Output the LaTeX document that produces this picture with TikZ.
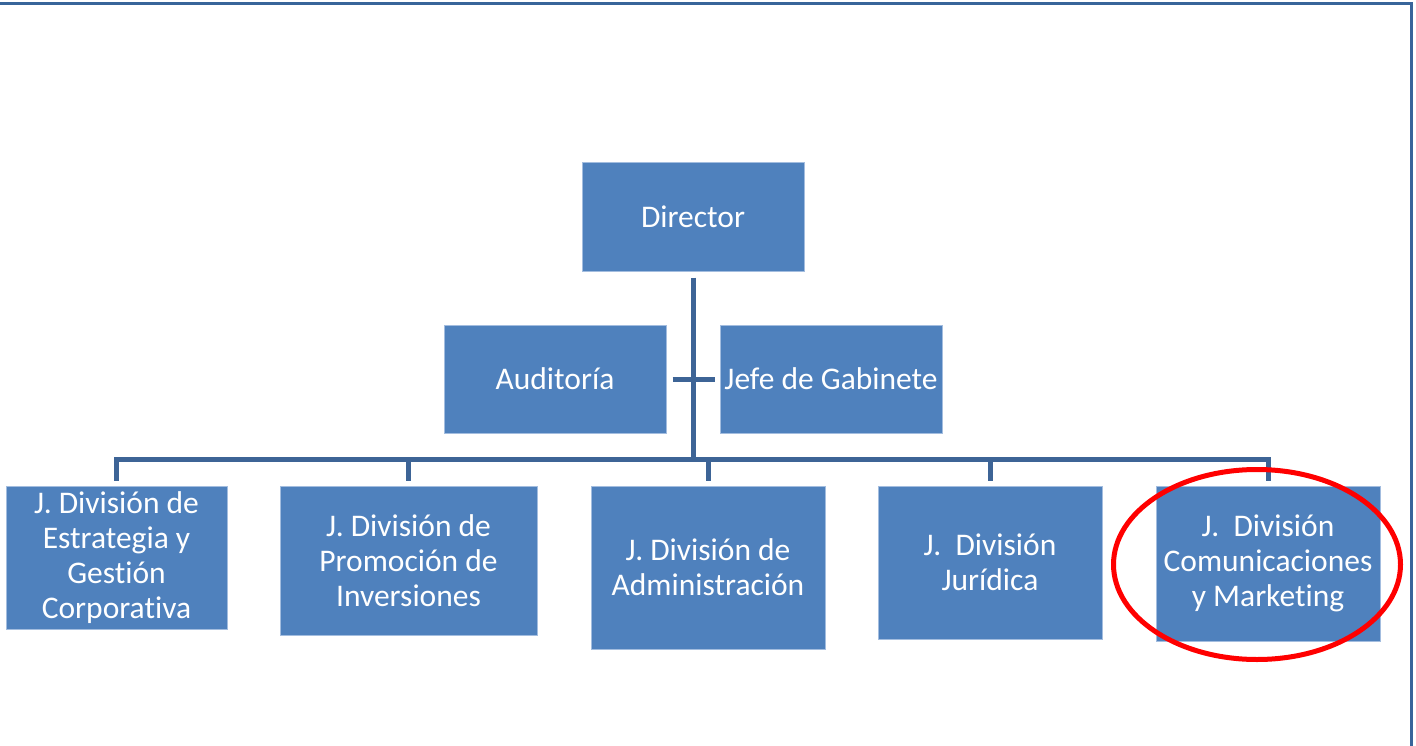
\documentclass[tikz,border=0pt]{standalone}
\usepackage{fontspec}
\setmainfont[Ligatures=NoCommon]{Carlito}
\usetikzlibrary{positioning}

\definecolor{boxblue}{HTML}{4F81BD}
\definecolor{boxedge}{HTML}{A3BDDF}
\definecolor{linkblue}{HTML}{3D6496}
\definecolor{frameblue}{HTML}{38659A}

\begin{document}
\begin{tikzpicture}[x=1pt, y=-1pt,
    box/.style={draw=boxedge, fill=boxblue, line width=1pt, text=white,
      align=center, inner sep=0pt, font=\fontsize{31.5}{35}\selectfont},
    link/.style={draw=linkblue, line width=5pt}]
  \useasboundingbox (0,0) rectangle (1416,746);
  \draw[frameblue, line width=3pt] (0,3.5) -- (1411.5,3.5) -- (1411.5,746);

  \node[box, minimum width=222pt, minimum height=108pt] (dir) at (693,217) {Director};
  \node[box, minimum width=222pt, minimum height=108pt] (aud) at (555,379) {Auditoría};
  \node[box, minimum width=222pt, minimum height=108pt] (gab) at (831,379) {Jefe de Gabinete};

  \node[box, minimum width=221pt, minimum height=143pt] (estr) at (116.5,557.5)
    {J. División de\\Estrategia y\\Gestión\\Corporativa};
  \node[box, minimum width=257pt, minimum height=149pt] (prom) at (408.5,560.5)
    {J. División de\\Promoción de\\Inversiones};
  \node[box, minimum width=234pt, minimum height=163pt] (adm) at (708,567.5)
    {J. División de\\Administración};
  \node[box, minimum width=224pt, minimum height=153pt] (jur) at (990,562.5)
    {J.\ \ División\\Jurídica};
  \node[box, minimum width=224pt, minimum height=155pt] (com) at (1268,563.5)
    {J.\ \ División\\Comunicaciones\\y Marketing};

  \coordinate (bus) at (0,459.5);
  \draw[link] ([yshift=-6pt]dir.south) -- (dir.south |- bus);
  \draw[link] ([xshift=6pt]aud.east) -- ([xshift=-5pt]gab.west);
  \draw[link] ([yshift=5pt]estr.north) -- (estr.north |- bus)
    -- (com.north |- bus) -- ([yshift=5pt]com.north);
  \foreach \n in {prom,adm,jur}
    \draw[link] ([yshift=5pt]\n.north) -- (\n.north |- bus);

  % highlight
  \draw[red, line width=5pt] (1257,564.5) ellipse [x radius=143.5, y radius=95];
\end{tikzpicture}
\end{document}
